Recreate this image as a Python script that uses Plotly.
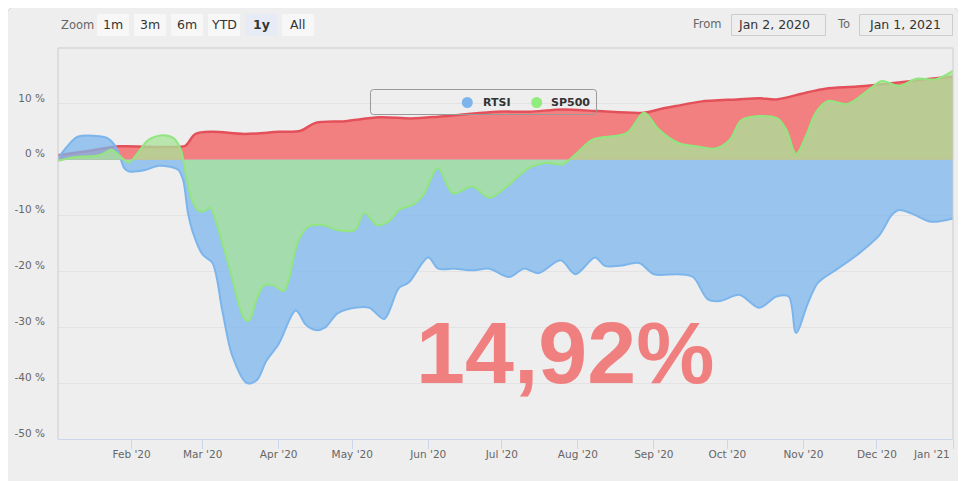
import plotly.graph_objects as go

# ---------------- data ----------------
portfolio_dates = ["2020-01-02", "2020-01-15", "2020-01-27", "2020-02-08", "2020-02-20", "2020-02-23",
                   "2020-02-27", "2020-03-05", "2020-03-18", "2020-04-01", "2020-04-10", "2020-04-16",
                   "2020-04-28", "2020-05-12", "2020-05-25", "2020-06-05", "2020-06-15", "2020-06-29",
                   "2020-07-12", "2020-07-26", "2020-08-09", "2020-08-28", "2020-09-03", "2020-09-10",
                   "2020-09-20", "2020-10-05", "2020-10-14", "2020-10-21", "2020-11-02", "2020-11-10",
                   "2020-11-23", "2020-12-07", "2020-12-21", "2021-01-01"]
portfolio_values = [0.8, 1.6, 2.4, 2.3, 2.3, 2.5,
                    4.6, 5.0, 4.6, 5.0, 5.2, 6.6,
                    6.9, 7.6, 7.4, 7.7, 8.1, 8.6,
                    8.6, 9.0, 8.7, 8.4, 9.0, 9.6,
                    10.4, 10.8, 11.0, 10.8, 12.0, 12.7,
                    13.1, 13.7, 14.4, 14.92]

rtsi_dates = ["2020-01-02", "2020-01-07", "2020-01-10", "2020-01-19", "2020-01-22", "2020-01-25",
              "2020-01-27", "2020-01-29", "2020-01-31", "2020-02-06", "2020-02-12", "2020-02-16",
              "2020-02-20", "2020-02-22", "2020-02-24", "2020-02-26", "2020-03-01", "2020-03-05",
              "2020-03-09", "2020-03-13", "2020-03-19", "2020-03-23", "2020-03-27", "2020-04-01",
              "2020-04-08", "2020-04-12", "2020-04-16", "2020-04-20", "2020-04-25", "2020-05-02",
              "2020-05-08", "2020-05-14", "2020-05-20", "2020-05-24", "2020-06-01", "2020-06-05",
              "2020-06-12", "2020-06-19", "2020-06-26", "2020-07-04", "2020-07-10", "2020-07-16",
              "2020-07-25", "2020-07-31", "2020-08-08", "2020-08-12", "2020-08-18", "2020-08-26",
              "2020-09-01", "2020-09-11", "2020-09-17", "2020-09-23", "2020-09-28", "2020-10-06",
              "2020-10-14", "2020-10-21", "2020-10-26", "2020-10-29", "2020-11-03", "2020-11-07",
              "2020-11-15", "2020-11-23", "2020-12-02", "2020-12-07", "2020-12-10", "2020-12-15",
              "2020-12-23", "2021-01-01"]
rtsi_values = [0.3, 3.0, 4.1, 4.2, 3.9, 2.7,
               0.9, -1.5, -2.1, -1.9, -1.1, -1.2,
               -1.8, -3.6, -9.5, -13.0, -17.0, -18.5,
               -27.0, -35.0, -40.0, -39.5, -36.0, -33.0,
               -27.0, -29.5, -30.5, -30.0, -27.5, -26.5,
               -26.5, -28.5, -23.0, -22.0, -17.5, -19.5,
               -19.5, -19.8, -19.5, -21.0, -19.5, -20.3,
               -18.0, -20.5, -17.5, -19.0, -19.0, -18.5,
               -20.5, -20.5, -21.0, -25.0, -25.3, -24.2,
               -26.5, -24.5, -24.5, -31.0, -25.5, -22.0,
               -19.5, -17.0, -13.5, -9.9, -9.0, -9.6,
               -11.1, -10.5]

sp500_dates = ["2020-01-02", "2020-01-09", "2020-01-15", "2020-01-19", "2020-01-23", "2020-01-24",
               "2020-01-29", "2020-01-31", "2020-02-04", "2020-02-08", "2020-02-14", "2020-02-18",
               "2020-02-21", "2020-02-23", "2020-02-26", "2020-02-28", "2020-03-01", "2020-03-04",
               "2020-03-06", "2020-03-12", "2020-03-18", "2020-03-20", "2020-03-23", "2020-03-26",
               "2020-03-30", "2020-04-03", "2020-04-09", "2020-04-13", "2020-04-19", "2020-04-25",
               "2020-05-02", "2020-05-06", "2020-05-11", "2020-05-16", "2020-05-20", "2020-05-26",
               "2020-05-30", "2020-06-05", "2020-06-11", "2020-06-19", "2020-06-26", "2020-07-03",
               "2020-07-12", "2020-07-19", "2020-07-26", "2020-08-02", "2020-08-07", "2020-08-21",
               "2020-08-28", "2020-09-03", "2020-09-11", "2020-09-20", "2020-09-26", "2020-10-02",
               "2020-10-07", "2020-10-21", "2020-10-25", "2020-10-29", "2020-11-02", "2020-11-06",
               "2020-11-11", "2020-11-19", "2020-11-27", "2020-12-03", "2020-12-10", "2020-12-17",
               "2020-12-25", "2021-01-01"]
sp500_values = [-0.2, 0.5, 0.6, 0.8, 1.7, 1.8,
                0.0, -0.5, 1.5, 3.6, 4.4, 3.9,
                1.9, -2.3, -7.7, -9.0, -9.3, -8.6,
                -10.5, -19.5, -28.5, -28.8, -25.0, -22.5,
                -22.5, -23.5, -14.5, -12.0, -11.7, -12.6,
                -12.6, -9.5, -11.7, -11.0, -9.0, -8.0,
                -6.3, -1.5, -6.0, -4.8, -6.8, -4.8,
                -1.5, -0.6, -0.8, 1.8, 3.6, 4.8,
                8.4, 5.4, 3.0, 2.3, 2.0, 3.6,
                7.2, 7.5, 5.4, 1.0, 4.2, 8.4,
                10.5, 10.0, 12.3, 14.1, 13.2, 14.5,
                14.4, 15.9]

month_ticks = ["2020-02-01", "2020-03-01", "2020-04-01", "2020-05-01", "2020-06-01", "2020-07-01",
               "2020-08-01", "2020-09-01", "2020-10-01", "2020-11-01", "2020-12-01", "2021-01-01"]
month_labels = ["Feb '20", "Mar '20", "Apr '20", "May '20", "Jun '20", "Jul '20",
                "Aug '20", "Sep '20", "Oct '20", "Nov '20", "Dec '20", ""]
last_month_label = "Jan '21"
y_ticks = [-50, -40, -30, -20, -10, 0, 10]
y_labels = ["-50 %", "-40 %", "-30 %", "-20 %", "-10 %", "0 %", "10 %"]
zoom_buttons = ["1m", "3m", "6m", "YTD", "1y", "All"]
selected_button = "1y"
from_text, to_text = "Jan 2, 2020", "Jan 1, 2021"
result_text = "14,92%"

# ---------------- layout helpers ----------------
# page offset of the figure (body margin) is 8px; all positions below are page pixels
OFF = 8
W, H = 966 - OFF, 481 - OFF
PX0, PX1, PY0, PY1 = 58, 953, 48, 439          # plot area in page pixels
L, T = PX0 - OFF, PY0 - OFF
R, B = W - (PX1 - OFF), H - (PY1 - OFF)
PW, PH = PX1 - PX0, PY1 - PY0
FONT = "DejaVu Sans"


def px(x):
    return (x - PX0) / PW


def py(y):
    return (PY1 - y) / PH


def rounded_path(x0, y0, x1, y1, r):
    pts = [
        f"M {px(x0)},{py(y0 + r)}",
        f"Q {px(x0)},{py(y0)} {px(x0 + r)},{py(y0)}",
        f"L {px(x1 - r)},{py(y0)}",
        f"Q {px(x1)},{py(y0)} {px(x1)},{py(y0 + r)}",
        f"L {px(x1)},{py(y1 - r)}",
        f"Q {px(x1)},{py(y1)} {px(x1 - r)},{py(y1)}",
        f"L {px(x0 + r)},{py(y1)}",
        f"Q {px(x0)},{py(y1)} {px(x0)},{py(y1 - r)}",
        "Z",
    ]
    return " ".join(pts)


fig = go.Figure()

fig.add_trace(go.Scatter(
    x=portfolio_dates, y=portfolio_values, name="Portfolio", mode="lines",
    line=dict(color="#e4505a", width=2.5, shape="spline", smoothing=0.9),
    fill="tozeroy", fillcolor="#f28080", showlegend=False, hoverinfo="skip"))
fig.add_trace(go.Scatter(
    x=rtsi_dates, y=rtsi_values, name="RTSI", mode="lines",
    line=dict(color="#7cb5ec", width=2, shape="spline", smoothing=0.9),
    fill="tozeroy", fillcolor="rgba(124,181,236,0.75)", showlegend=False, hoverinfo="skip"))
fig.add_trace(go.Scatter(
    x=sp500_dates, y=sp500_values, name="SP500", mode="lines",
    line=dict(color="#92e67f", width=2, shape="spline", smoothing=0.9),
    fill="tozeroy", fillcolor="rgba(168,228,153,0.76)", showlegend=False, hoverinfo="skip"))

shapes = []
annotations = []

# card background
card = (f"M {px(6.5)},{py(490)} L {px(6.5)},{py(17)} Q {px(6.5)},{py(6.5)} {px(17)},{py(6.5)} "
        f"L {px(949)},{py(6.5)} Q {px(959.5)},{py(6.5)} {px(959.5)},{py(17)} L {px(959.5)},{py(490)} Z")
shapes.append(dict(type="path", xref="paper", yref="paper", path=card, layer="below",
                   fillcolor="#eeeeee", line=dict(color="#d6d6d6", width=1)))
shapes.append(dict(type="line", xref="paper", yref="paper", layer="below",
                   x0=px(961), x1=px(961), y0=py(14), y1=py(490),
                   line=dict(color="#dcdcdc", width=2)))

# plot border (top, left, right)
shapes.append(dict(type="path", xref="paper", yref="paper", layer="above",
                   path="M 0,0 L 0,1 L 1,1 L 1,0", line=dict(color="#cccccc", width=1)))

# zoom buttons
annotations.append(dict(xref="paper", yref="paper", x=px(59), y=py(25), xanchor="left", yanchor="middle",
                        text="Zoom", showarrow=False, font=dict(family=FONT, size=11.5, color="#666666")))
for i, lab in enumerate(zoom_buttons):
    x0 = 97 + i * 37
    sel = lab == selected_button
    shapes.append(dict(type="rect", xref="paper", yref="paper", x0=px(x0), x1=px(x0 + 32),
                       y0=py(14), y1=py(36), fillcolor="#e6ebf5" if sel else "#f7f7f7",
                       line=dict(width=0)))
    annotations.append(dict(xref="paper", yref="paper", x=px(x0 + 16), y=py(25), xanchor="center",
                            yanchor="middle", text=f"<b>{lab}</b>" if sel else lab, showarrow=False,
                            font=dict(family=FONT, size=12.5, color="#333333")))

# date inputs
annotations.append(dict(xref="paper", yref="paper", x=px(723.5), y=py(24), xanchor="right", yanchor="middle",
                        text="From", showarrow=False, font=dict(family=FONT, size=11.5, color="#666666")))
annotations.append(dict(xref="paper", yref="paper", x=px(851.5), y=py(24), xanchor="right", yanchor="middle",
                        text="To", showarrow=False, font=dict(family=FONT, size=11.5, color="#666666")))
for (bx0, bx1, tc, txt) in [(731, 826, 774, from_text), (859, 953, 905, to_text)]:
    shapes.append(dict(type="rect", xref="paper", yref="paper", x0=px(bx0 + 0.5), x1=px(bx1 - 0.5),
                       y0=py(14.5), y1=py(35.5), line=dict(color="#cccccc", width=1)))
    annotations.append(dict(xref="paper", yref="paper", x=px(tc), y=py(24.5), xanchor="center",
                            yanchor="middle", text=txt, showarrow=False,
                            font=dict(family=FONT, size=12.5, color="#333333")))

# legend
shapes.append(dict(type="path", xref="paper", yref="paper", layer="above",
                   path=rounded_path(370.5, 89.5, 596.5, 114.5, 3),
                   line=dict(color="#999999", width=1)))
for cx, col, tx, name in [(467.3, "#7cb5ec", 480.5, "RTSI"), (536.7, "#90ed7d", 549, "SP500")]:
    shapes.append(dict(type="circle", xref="paper", yref="paper", xsizemode="pixel", ysizemode="pixel",
                       xanchor=px(cx), yanchor=py(102.5), x0=-5.5, x1=5.5, y0=-5.5, y1=5.5,
                       fillcolor=col, line=dict(width=0), layer="above"))
    annotations.append(dict(xref="paper", yref="paper", x=px(tx), y=py(102.5), xanchor="left",
                            yanchor="middle", text=f"<b>{name}</b>", showarrow=False,
                            font=dict(family=FONT, size=11, color="#333333")))

# last month label (kept inside plot)
annotations.append(dict(xref="x", yref="paper", x=month_ticks[-1], y=py(454), xanchor="right",
                        yanchor="middle", xshift=-1, text=last_month_label, showarrow=False,
                        font=dict(family=FONT, size=10.5, color="#666666")))

# big result text
annotations.append(dict(xref="paper", yref="paper", x=px(565), y=py(352), xanchor="center",
                        yanchor="middle", text=f"<b>{result_text}</b>", showarrow=False,
                        font=dict(family="Liberation Sans", size=88, color="#f08080")))

fig.update_layout(
    width=W, height=H, autosize=False,
    margin=dict(l=L, r=R, t=T, b=B, pad=0, autoexpand=False),
    paper_bgcolor="#ffffff", plot_bgcolor="rgba(0,0,0,0)",
    showlegend=False, hovermode=False,
    shapes=shapes, annotations=annotations,
    xaxis=dict(type="date", range=["2020-01-02", "2021-01-01"], tickvals=month_ticks, ticktext=month_labels,
               ticks="outside", ticklen=9, tickcolor="#ccd6eb", tickwidth=1, automargin=False,
               showline=True, linecolor="#ccd6eb", linewidth=1, showgrid=False, zeroline=False,
               tickfont=dict(family=FONT, size=10.5, color="#666666"), ticklabelstandoff=-4,
               fixedrange=True),
    yaxis=dict(range=[-50, 20], tickvals=y_ticks, ticktext=y_labels, ticks="", automargin=False,
               showgrid=True, gridcolor="#e3e3e3", gridwidth=1, zeroline=False, showline=False,
               tickfont=dict(family=FONT, size=10.5, color="#666666"),
               ticklabelshift=-6, ticklabelstandoff=12, fixedrange=True),
)

fig.write_html("out.html")
